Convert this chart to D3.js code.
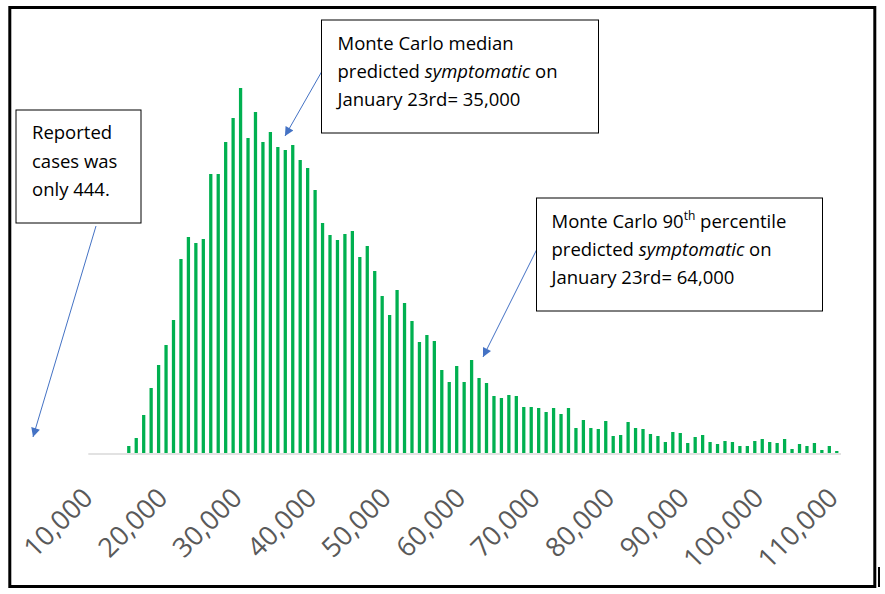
<!DOCTYPE html>
<html>
<head>
<meta charset="utf-8">
<script src="https://cdn.jsdelivr.net/npm/d3@7"></script>
<style>
  body { margin: 0; background: #fff; }
  svg { display: block; }
  text { font-family: 'Open Sans', 'Noto Sans', sans-serif; }
</style>
</head>
<body>
<div id="chart"></div>
<script>
// Monte Carlo runs: predicted symptomatic cases on January 23rd, 1,000-wide bins
const bins = d3.range(10000, 110001, 1000);
const firstBin = 15000;
const frequency = [
  7, 15, 38, 65, 88, 108, 133, 194, 216, 210,
  214, 279, 279, 311, 335, 365, 315, 341, 311, 321,
  306, 303, 308, 293, 285, 263, 230, 218, 213, 219,
  222, 196, 207, 182, 157, 138, 163, 150, 132, 111,
  118, 112, 83, 71, 87, 71, 93, 75, 70, 57,
  55, 58, 57, 46, 46, 45, 41, 45, 39, 45,
  25, 33, 25, 24, 32, 17, 18, 31, 25, 24,
  19, 17, 11, 21, 20, 10, 16, 18, 11, 9,
  12, 11, 7, 7, 12, 14, 11, 10, 14, 4,
  9, 7, 10, 3, 7, 2
];
const tickValues = [10000, 20000, 30000, 40000, 50000, 60000, 70000, 80000, 90000, 100000, 110000];

const noteReported = ['Reported', 'cases was', 'only 444.'];
const noteMedian = ['Monte Carlo median', 'predicted |symptomatic| on', 'January 23rd= 35,000'];
const note90th = ['Monte Carlo 90^th^ percentile', 'predicted |symptomatic| on', 'January 23rd= 64,000'];

const data = frequency.map((f, i) => ({ bin: firstBin + i * 1000, f }));

const width = 885, height = 594;
const blue = '#4472C4';

const svg = d3.select('#chart').append('svg')
  .attr('width', width).attr('height', height);

svg.append('defs').append('marker')
  .attr('id', 'arrow').attr('viewBox', '0 -5 10 10')
  .attr('refX', 10).attr('refY', 0)
  .attr('markerWidth', 11).attr('markerHeight', 9)
  .attr('markerUnits', 'userSpaceOnUse')
  .attr('orient', 'auto')
  .append('path').attr('d', 'M0,-5L10,0L0,5Z').attr('fill', blue);

const x = d3.scaleBand().domain(bins).range([87.8, 840.5])
  .paddingInner(0.56).paddingOuter(0.28);
const y = d3.scaleLinear().domain([0, d3.max(frequency)]).range([453, 88]);

svg.append('g').selectAll('rect')
  .data(data).join('rect')
  .attr('x', d => x(d.bin)).attr('width', x.bandwidth())
  .attr('y', d => y(d.f)).attr('height', d => y(0) - y(d.f))
  .attr('fill', '#00B050');

const axis = svg.append('g')
  .attr('transform', 'translate(0,453.5)')
  .call(d3.axisBottom(x).tickValues(tickValues).tickSize(0).tickFormat(d3.format(',')));
axis.select('.domain').attr('stroke', '#d9d9d9').attr('stroke-width', 1.5);
axis.selectAll('text')
  .attr('y', 0).attr('dy', 0)
  .attr('text-anchor', 'end')
  .attr('transform', 'translate(3,46) rotate(-45)')
  .attr('fill', '#595959')
  .style('font-size', '27px')
  .style('font-family', "'Open Sans', sans-serif");

// callouts
function callout(lines, box, lineY, arrowFrom, arrowTo) {
  const g = svg.append('g');
  g.append('line')
    .attr('x1', arrowFrom[0]).attr('y1', arrowFrom[1])
    .attr('x2', arrowTo[0]).attr('y2', arrowTo[1])
    .attr('stroke', blue).attr('stroke-width', 1)
    .attr('marker-end', 'url(#arrow)');
  g.append('rect')
    .attr('x', box[0]).attr('y', box[1]).attr('width', box[2]).attr('height', box[3])
    .attr('fill', '#fff').attr('stroke', '#000').attr('stroke-width', 1);
  lines.forEach((ln, i) => {
    const t = g.append('text')
      .attr('x', box[0] + lineY.dx).attr('y', lineY.y0 + i * lineY.step)
      .attr('fill', '#000').style('font-size', lineY.size + 'px');
    // |...| = italic, ^...^ = superscript
    ln.split(/(\|[^|]+\||\^[^^]+\^)/).filter(s => s).forEach(part => {
      if (part.startsWith('|')) {
        t.append('tspan').style('font-style', 'italic').text(part.slice(1, -1));
      } else if (part.startsWith('^')) {
        t.append('tspan').attr('baseline-shift', 'super')
          .style('font-size', (lineY.size * 0.65) + 'px').text(part.slice(1, -1));
      } else {
        t.append('tspan').text(part);
      }
    });
  });
}

callout(noteReported, [16, 110, 125, 113], { dx: 16, y0: 139, step: 28.7, size: 18.5 },
  [96, 226], [33, 437]);
callout(noteMedian, [321.5, 20, 277, 113], { dx: 16, y0: 50, step: 28.2, size: 18.5 },
  [321.5, 72], [285, 136]);
callout(note90th, [536.5, 198, 286, 113], { dx: 15, y0: 227.5, step: 28.3, size: 18.5 },
  [536.5, 250], [483, 357]);

// outer frame
svg.append('rect')
  .attr('x', 9.8).attr('y', 7.5).attr('width', 865).attr('height', 579)
  .attr('fill', 'none').attr('stroke', '#000').attr('stroke-width', 3);
svg.append('line')
  .attr('x1', 879).attr('y1', 567).attr('x2', 879).attr('y2', 587)
  .attr('stroke', '#000').attr('stroke-width', 2);
</script>
</body>
</html>
